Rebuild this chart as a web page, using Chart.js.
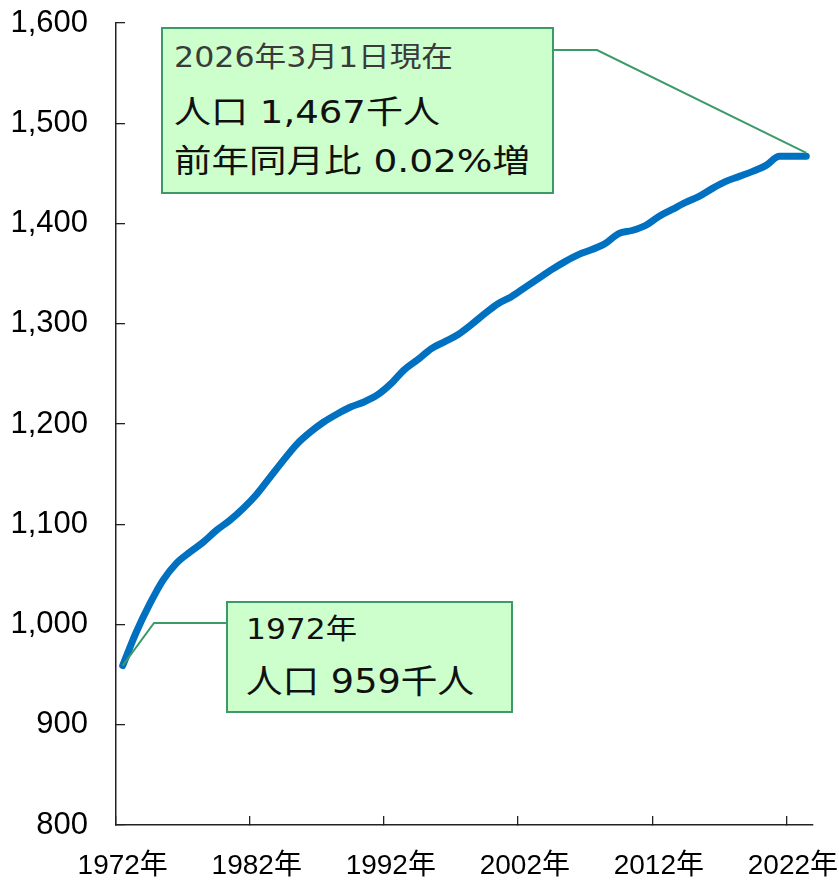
<!DOCTYPE html>
<html lang="ja">
<head>
<meta charset="utf-8">
<title>人口の推移</title>
<script src="https://cdn.jsdelivr.net/npm/chart.js@4/dist/chart.umd.min.js"></script>
<style>
  html, body { margin: 0; padding: 0; background: #fff; }
  #wrap { position: relative; width: 839px; height: 880px; }
  #wrap canvas { position: absolute; left: 0; top: 0; }
  .callout {
    position: absolute; box-sizing: border-box;
    background: #ccffcc; border: 2px solid #3c9a68;
  }
  .callout .line {
    position: absolute; white-space: nowrap; line-height: 1;
    font-family: 'DejaVu Sans', 'Noto Sans CJK JP', sans-serif;
    transform-origin: 0 50%;
  }
</style>
</head>
<body>
<div id="wrap">
  <canvas id="chart" width="839" height="880"></canvas>

  <div class="callout" id="calloutLatest" style="left:161px; top:27px; width:393px; height:167px;">
    <span class="line" data-w="279" style="left:11px; top:15px; font-size:28px; color:#3a3a3a;">2026年3月1日現在</span>
    <span class="line" data-w="266" style="left:11px; top:67px; font-size:32px; color:#111;">人口 1,467千人</span>
    <span class="line" data-w="356" style="left:11px; top:116px; font-size:32px; color:#111;">前年同月比 0.02%増</span>
  </div>

  <div class="callout" id="calloutFirst" style="left:226px; top:601px; width:287px; height:112px;">
    <span class="line" data-w="111" style="left:18px; top:13px; font-size:28px; color:#111;">1972年</span>
    <span class="line" data-w="228" style="left:18px; top:62px; font-size:33px; color:#111;">人口 959千人</span>
  </div>
</div>

<script>
// 各年の人口（千人）。最後の点は2026年3月1日現在の推計
const categories = [
  '1972年','1973年','1974年','1975年','1976年','1977年','1978年','1979年','1980年','1981年',
  '1982年','1983年','1984年','1985年','1986年','1987年','1988年','1989年','1990年','1991年',
  '1992年','1993年','1994年','1995年','1996年','1997年','1998年','1999年','2000年','2001年',
  '2002年','2003年','2004年','2005年','2006年','2007年','2008年','2009年','2010年','2011年',
  '2012年','2013年','2014年','2015年','2016年','2017年','2018年','2019年','2020年','2021年',
  '2022年','2026年3月'
];
const population = [
  959, 992, 1020, 1044, 1061, 1072, 1082, 1094, 1104, 1116,
  1130, 1147, 1164, 1180, 1192, 1202, 1210, 1217, 1222, 1229,
  1240, 1254, 1264, 1275, 1282, 1289, 1299, 1310, 1320, 1327,
  1336, 1345, 1354, 1362, 1369, 1374, 1380, 1390, 1393, 1398,
  1407, 1414, 1421, 1427, 1435, 1442, 1447, 1452, 1458, 1467,
  1467, 1467
];
const yTicks = [800, 900, 1000, 1100, 1200, 1300, 1400, 1500, 1600];
const labelEvery = 10;   // 年ラベルは10年おき

const AXIS = '#222';
const CALLOUT_GREEN = '#3c9a68';

// 吹き出しの引き出し線：箱の辺 → 折れ点 → データ点
const leaderLines = {
  id: 'leaderLines',
  afterDatasetsDraw(chart) {
    const { ctx, scales: { x, y } } = chart;
    const wrap = document.getElementById('wrap').getBoundingClientRect();
    const first = document.getElementById('calloutFirst').getBoundingClientRect();
    const latest = document.getElementById('calloutLatest').getBoundingClientRect();
    const lineW = chart.data.datasets[0].borderWidth;

    ctx.save();
    ctx.strokeStyle = CALLOUT_GREEN;
    ctx.lineWidth = 2;
    ctx.lineJoin = 'miter';

    // 1972年の点へ
    const fx = first.left - wrap.left, fy = first.top - wrap.top + 22;
    ctx.beginPath();
    ctx.moveTo(fx, fy);
    ctx.lineTo(154, fy);
    ctx.lineTo(x.getPixelForValue(0), y.getPixelForValue(population[0]));
    ctx.stroke();

    // 最新値の点へ
    const n = population.length - 1;
    const lx = latest.right - wrap.left, ly = latest.top - wrap.top + 23;
    ctx.beginPath();
    ctx.moveTo(lx, ly);
    ctx.lineTo(597, ly);
    ctx.lineTo(x.getPixelForValue(n), y.getPixelForValue(population[n]) - lineW / 2);
    ctx.stroke();
    ctx.restore();
  }
};

new Chart(document.getElementById('chart'), {
  type: 'line',
  data: {
    labels: categories,
    datasets: [{
      data: population,
      borderColor: '#0070c0',
      borderWidth: 7,
      borderCapStyle: 'round',
      borderJoinStyle: 'round',
      cubicInterpolationMode: 'monotone',
      pointRadius: 0,
      pointHoverRadius: 0,
      fill: false
    }]
  },
  options: {
    responsive: false,
    animation: false,
    events: [],
    layout: { padding: { top: 23, right: 26, bottom: 0, left: 0 } },
    plugins: { legend: { display: false }, tooltip: { enabled: false } },
    scales: {
      x: {
        type: 'category',
        offset: true,
        grid: {
          offset: true,
          drawOnChartArea: false,
          drawTicks: true,
          tickLength: -9,
          lineWidth: 1.3,
          color: ctx => (ctx.index % labelEvery === 0 ? AXIS : 'rgba(0,0,0,0)')
        },
        border: { display: true, color: AXIS, width: 1.5 },
        ticks: {
          autoSkip: false,
          maxRotation: 0,
          minRotation: 0,
          padding: 33,
          color: '#000',
          font: { family: "'Liberation Sans', 'Noto Sans CJK JP', sans-serif", size: 28 },
          callback: function (value, index) {
            return index % labelEvery === 0 ? this.getLabelForValue(value) : '';
          }
        },
        afterFit: scale => {
          scale.height = 55;
          scale.paddingLeft = 0;
          scale.paddingRight = 0;
        }
      },
      y: {
        type: 'linear',
        min: yTicks[0],
        max: yTicks[yTicks.length - 1],
        afterBuildTicks: scale => { scale.ticks = yTicks.map(v => ({ value: v })); },
        grid: {
          drawOnChartArea: false,
          drawTicks: true,
          tickLength: -9,
          lineWidth: 1.3,
          color: AXIS
        },
        border: { display: true, color: AXIS, width: 1.5 },
        ticks: {
          padding: 37,
          color: '#000',
          font: { family: "'Liberation Sans', Arial, sans-serif", size: 31 },
          callback: v => v.toLocaleString('en-US')
        },
        afterFit: scale => {
          scale.width = 116;
          scale.paddingTop = 0;
          scale.paddingBottom = 0;
        }
      }
    }
  },
  plugins: [leaderLines]
});

// 吹き出し内の各行を指定幅に合わせる
function fitCalloutLines() {
  document.querySelectorAll('.callout .line').forEach(el => {
    el.style.transform = 'none';
    const natural = el.getBoundingClientRect().width;
    const target = parseFloat(el.dataset.w);
    if (natural > 0) el.style.transform = 'scaleX(' + (target / natural).toFixed(4) + ')';
  });
}
fitCalloutLines();
if (document.fonts && document.fonts.ready) document.fonts.ready.then(fitCalloutLines);
</script>
</body>
</html>
